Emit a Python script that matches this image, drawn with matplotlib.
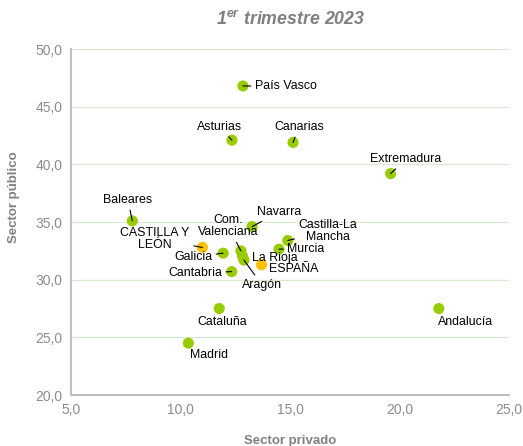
import matplotlib
matplotlib.use("Agg")
import matplotlib.pyplot as plt
from matplotlib.ticker import FuncFormatter, MultipleLocator

plt.rcParams["font.family"] = ["Liberation Sans", "DejaVu Sans"]
plt.rcParams["mathtext.fontset"] = "custom"
plt.rcParams["mathtext.rm"] = "Liberation Sans:italic:bold"
plt.rcParams["mathtext.it"] = "Liberation Sans:italic:bold"

# data: sector privado (x), sector publico (y)
regions = ["País Vasco", "Asturias", "Canarias", "Extremadura", "Baleares",
           "CASTILLA Y\nLEÓN", "Navarra", "Castilla-La\nMancha", "Murcia",
           "Galicia", "Com.\nValenciana", "La Rioja", "Aragón", "ESPAÑA",
           "Cantabria", "Cataluña", "Madrid", "Andalucía"]
privado = [12.85, 12.35, 15.14, 19.6, 7.8, 11.0, 13.27, 14.9, 14.5,
           11.95, 12.76, 12.83, 12.9, 13.7, 12.34, 11.77, 10.36, 21.8]
publico = [46.8, 42.1, 41.9, 39.2, 35.1, 32.8, 34.6, 33.4, 32.65,
           32.3, 32.5, 32.05, 31.7, 31.3, 30.7, 27.5, 24.5, 27.5]
highlight = ["CASTILLA Y\nLEÓN", "ESPAÑA"]

# label placement (data coords) and whether a leader line is drawn
label_pos = {
    "País Vasco": (14.82, 46.79, True),
    "Asturias": (11.80, 43.24, True),
    "Canarias": (15.41, 43.24, True),
    "Extremadura": (20.30, 40.46, True),
    "Baleares": (7.60, 36.91, True),
    "CASTILLA Y\nLEÓN": (8.84, 33.53, True),
    "Com.\nValenciana": (12.17, 34.65, True),
    "Navarra": (14.50, 35.87, True),
    "Castilla-La\nMancha": (16.74, 34.22, True),
    "Murcia": (15.73, 32.66, True),
    "Galicia": (10.57, 31.96, True),
    "La Rioja": (14.32, 31.88, False),
    "ESPAÑA": (15.18, 30.92, False),
    "Cantabria": (10.66, 30.58, True),
    "Aragón": (13.72, 29.54, True),
    "Cataluña": (11.89, 26.33, False),
    "Madrid": (11.30, 23.47, False),
    "Andalucía": (23.04, 26.33, False),
}

green = "#99cc00"
orange = "#ffc000"
grey = "#808080"

fig = plt.figure(figsize=(5.23, 4.46), dpi=100)
ax = fig.add_axes([0.1358, 0.1143, 0.8372, 0.7757])

colors = [orange if r in highlight else green for r in regions]
ax.scatter(privado, publico, s=64, c=colors, zorder=3, linewidths=0)

for r, x, y in zip(regions, privado, publico):
    tx, ty, leader = label_pos[r]
    arrow = dict(arrowstyle="-", color="black", lw=0.8, shrinkA=1, shrinkB=0) if leader else None
    ax.annotate(r, xy=(x, y), xytext=(tx, ty), ha="center", va="center",
                fontsize=8.9, color="black", linespacing=1.05,
                arrowprops=arrow, zorder=4)

ax.set_xlim(5, 25)
ax.set_ylim(20, 50)
ax.xaxis.set_major_locator(MultipleLocator(5))
ax.yaxis.set_major_locator(MultipleLocator(5))
fmt = FuncFormatter(lambda v, p: f"{v:.1f}".replace(".", ","))
ax.xaxis.set_major_formatter(fmt)
ax.yaxis.set_major_formatter(fmt)
ax.tick_params(length=0, labelsize=10, labelcolor="#8c8c8c", pad=6)

ax.grid(axis="y", color="#d9ead3", lw=0.9)
ax.set_axisbelow(True)
for s in ["top", "right"]:
    ax.spines[s].set_visible(False)
for s in ["left", "bottom"]:
    ax.spines[s].set_color("#bfbfbf")
    ax.spines[s].set_linewidth(1.5)

fig.text(0.555, 0.955, "1$^{er}$ trimestre 2023", ha="center", va="center",
         fontsize=12.8, color=grey, fontweight="bold", fontstyle="italic")
fig.text(0.027, 0.558, "Sector público", rotation=90, ha="center", va="center",
         fontsize=9.5, color=grey, fontweight="bold")
fig.text(0.555, 0.012, "Sector privado", ha="center", va="center",
         fontsize=9.5, color=grey, fontweight="bold")

fig.savefig("out.png", dpi=100)
